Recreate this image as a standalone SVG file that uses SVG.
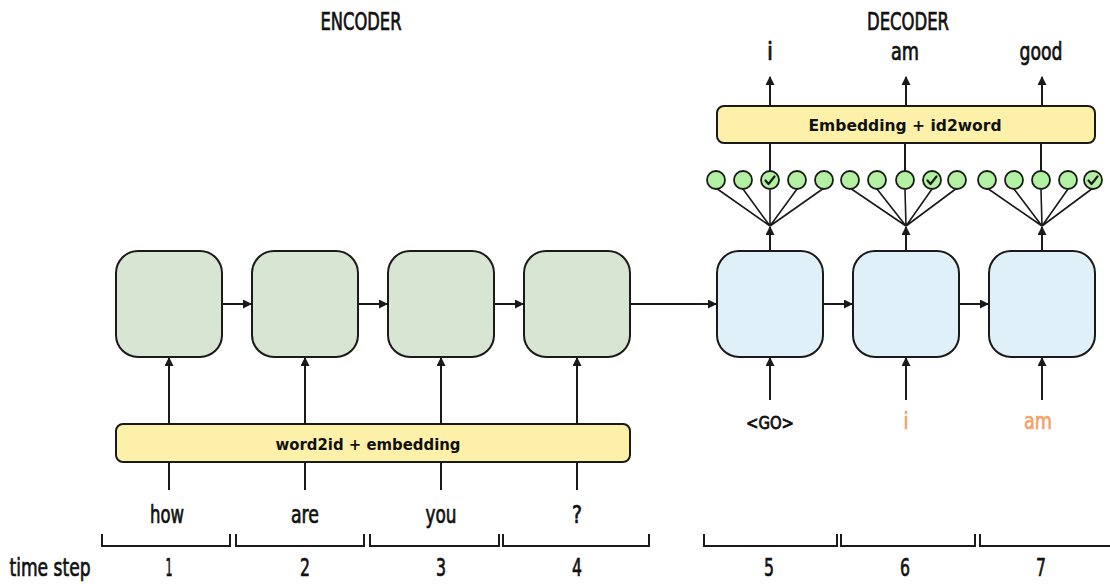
<svg xmlns="http://www.w3.org/2000/svg" width="1110" height="584" viewBox="0 0 1110 584">
<style>
.enc{fill:#d9e5d3;stroke:#1a1a1a;stroke-width:2}
.dec{fill:#dff0f8;stroke:#1a1a1a;stroke-width:2}
.bar{fill:#fdf1aa;stroke:#1a1a1a;stroke-width:2}
.ln{stroke:#1a1a1a;stroke-width:2;fill:none}
.fan{stroke:#1a1a1a;stroke-width:1.6;fill:none}
.cir{fill:#b3f1a2;stroke:#1a1a1a;stroke-width:1.8}
.chk{stroke:#1a1a1a;stroke-width:2.2;fill:none;stroke-linecap:round;stroke-linejoin:round}
.cd{font-family:"DejaVu Sans Condensed","DejaVu Sans",sans-serif;fill:#111;stroke:#111;stroke-width:0.7;text-anchor:middle}
.bd{font-family:"DejaVu Sans","Liberation Sans",sans-serif;font-weight:bold;fill:#111;text-anchor:middle}
.go{font-family:"DejaVu Sans","Liberation Sans",sans-serif;fill:#111;stroke:#111;stroke-width:0.8;text-anchor:middle}
.or{fill:#f4a266;stroke:#f4a266}
</style>
<defs>
<marker id="ah" markerUnits="userSpaceOnUse" markerWidth="10" markerHeight="10" refX="8" refY="4.5" orient="auto">
<path d="M0,0 L9,4.5 L0,9 z" fill="#1a1a1a"/>
</marker>
</defs>

<g id="titles">
<text class="cd" x="361" y="30" font-size="24" textLength="81" lengthAdjust="spacingAndGlyphs">ENCODER</text>
<text class="cd" x="908" y="30" font-size="24" textLength="82" lengthAdjust="spacingAndGlyphs">DECODER</text>
</g>

<g id="connectors">
<line class="ln" x1="222" y1="304" x2="251" y2="304" marker-end="url(#ah)"/>
<line class="ln" x1="358" y1="304" x2="387" y2="304" marker-end="url(#ah)"/>
<line class="ln" x1="494" y1="304" x2="523" y2="304" marker-end="url(#ah)"/>
<line class="ln" x1="630" y1="304" x2="716" y2="304" marker-end="url(#ah)"/>
<line class="ln" x1="823" y1="304" x2="852" y2="304" marker-end="url(#ah)"/>
<line class="ln" x1="959" y1="304" x2="988" y2="304" marker-end="url(#ah)"/>
<line class="ln" x1="169" y1="424" x2="169" y2="358" marker-end="url(#ah)"/>
<line class="ln" x1="305" y1="424" x2="305" y2="358" marker-end="url(#ah)"/>
<line class="ln" x1="441" y1="424" x2="441" y2="358" marker-end="url(#ah)"/>
<line class="ln" x1="577" y1="424" x2="577" y2="358" marker-end="url(#ah)"/>
<line class="ln" x1="169" y1="490" x2="169" y2="462"/>
<line class="ln" x1="305" y1="490" x2="305" y2="462"/>
<line class="ln" x1="441" y1="490" x2="441" y2="462"/>
<line class="ln" x1="577" y1="490" x2="577" y2="462"/>
<line class="ln" x1="770" y1="400" x2="770" y2="358" marker-end="url(#ah)"/>
<line class="ln" x1="906" y1="400" x2="906" y2="358" marker-end="url(#ah)"/>
<line class="ln" x1="1042" y1="400" x2="1042" y2="358" marker-end="url(#ah)"/>
<line class="ln" x1="770" y1="251" x2="770" y2="227" marker-end="url(#ah)"/>
<line class="ln" x1="906" y1="251" x2="906" y2="227" marker-end="url(#ah)"/>
<line class="ln" x1="1042" y1="251" x2="1042" y2="227" marker-end="url(#ah)"/>
<path class="fan" d="M770,226 L716,188 M770,226 L743,189 M770,226 L770,190 M770,226 L797,189 M770,226 L824,188"/>
<path class="fan" d="M906,226 L850,188 M906,226 L877,189 M906,226 L905,190 M906,226 L932,189 M906,226 L957,188"/>
<path class="fan" d="M1042,226 L987,188 M1042,226 L1014,189 M1042,226 L1041,190 M1042,226 L1068,189 M1042,226 L1093,188"/>
<line class="ln" x1="770" y1="171" x2="770" y2="143"/>
<line class="ln" x1="905" y1="171" x2="905" y2="143"/>
<line class="ln" x1="1041" y1="171" x2="1041" y2="143"/>
<line class="ln" x1="770" y1="106" x2="770" y2="77" marker-end="url(#ah)"/>
<line class="ln" x1="906" y1="106" x2="906" y2="77" marker-end="url(#ah)"/>
<line class="ln" x1="1042" y1="106" x2="1042" y2="77" marker-end="url(#ah)"/>
</g>

<g id="enc1"><rect class="enc" x="116" y="251" width="106" height="106" rx="22"/></g>
<g id="enc2"><rect class="enc" x="252" y="251" width="106" height="106" rx="22"/></g>
<g id="enc3"><rect class="enc" x="388" y="251" width="106" height="106" rx="22"/></g>
<g id="enc4"><rect class="enc" x="524" y="251" width="106" height="106" rx="22"/></g>
<g id="dec5"><rect class="dec" x="717" y="251" width="106" height="106" rx="22"/></g>
<g id="dec6"><rect class="dec" x="853" y="251" width="106" height="106" rx="22"/></g>
<g id="dec7"><rect class="dec" x="989" y="251" width="106" height="106" rx="22"/></g>

<g id="word2id">
<rect class="bar" x="116" y="424" width="514" height="38" rx="7"/>
<text class="bd" x="368" y="450" font-size="16" textLength="185" lengthAdjust="spacingAndGlyphs">word2id + embedding</text>
</g>
<g id="id2word">
<rect class="bar" x="717" y="106" width="378" height="37" rx="7"/>
<text class="bd" x="905" y="131" font-size="16" textLength="193" lengthAdjust="spacingAndGlyphs">Embedding + id2word</text>
</g>

<g id="softmax5">
<circle class="cir" cx="716" cy="180" r="9"/>
<circle class="cir" cx="743" cy="180" r="9"/>
<circle class="cir" cx="770" cy="180" r="9"/>
<circle class="cir" cx="797" cy="180" r="9"/>
<circle class="cir" cx="824" cy="180" r="9"/>
<path class="chk" d="M765.5,180.5 L768.5,184 L774.5,176.5"/>
</g>
<g id="softmax6">
<circle class="cir" cx="850" cy="180" r="9"/>
<circle class="cir" cx="877" cy="180" r="9"/>
<circle class="cir" cx="905" cy="180" r="9"/>
<circle class="cir" cx="932" cy="180" r="9"/>
<circle class="cir" cx="957" cy="180" r="9"/>
<path class="chk" d="M927.5,180.5 L930.5,184 L936.5,176.5"/>
</g>
<g id="softmax7">
<circle class="cir" cx="987" cy="180" r="9"/>
<circle class="cir" cx="1014" cy="180" r="9"/>
<circle class="cir" cx="1041" cy="180" r="9"/>
<circle class="cir" cx="1068" cy="180" r="9"/>
<circle class="cir" cx="1093" cy="180" r="9"/>
<path class="chk" d="M1088.5,180.5 L1091.5,184 L1097.5,176.5"/>
</g>

<g id="outputs">
<text class="cd" x="770" y="60" font-size="24" textLength="6" lengthAdjust="spacingAndGlyphs">i</text>
<text class="cd" x="905" y="60" font-size="24" textLength="28" lengthAdjust="spacingAndGlyphs">am</text>
<text class="cd" x="1041" y="60" font-size="24" textLength="43" lengthAdjust="spacingAndGlyphs">good</text>
</g>

<g id="dec-inputs">
<text class="go" x="770" y="429" font-size="17" textLength="48" lengthAdjust="spacingAndGlyphs">&lt;GO&gt;</text>
<text class="cd or" x="906" y="429" font-size="23" textLength="5" lengthAdjust="spacingAndGlyphs">i</text>
<text class="cd or" x="1038" y="429" font-size="23" textLength="28" lengthAdjust="spacingAndGlyphs">am</text>
</g>

<g id="enc-inputs">
<text class="cd" x="167" y="523" font-size="24" textLength="34" lengthAdjust="spacingAndGlyphs">how</text>
<text class="cd" x="305" y="523" font-size="24" textLength="28" lengthAdjust="spacingAndGlyphs">are</text>
<text class="cd" x="441" y="523" font-size="24" textLength="31" lengthAdjust="spacingAndGlyphs">you</text>
<text class="cd" x="577" y="523" font-size="24" textLength="10" lengthAdjust="spacingAndGlyphs">?</text>
</g>

<g id="timesteps">
<path class="ln" d="M102,534 V546 H230 V534 M236,534 V546 H364 V534 M370,534 V546 H499 V534 M503,534 V546 H649 V534 M704,534 V546 H837 V534 M841,534 V546 H975 V534 M980,534 V546 H1112"/>
<text class="cd" x="50" y="576" font-size="25" textLength="81" lengthAdjust="spacingAndGlyphs">time step</text>
<text class="cd" x="169" y="576" font-size="25" textLength="7" lengthAdjust="spacingAndGlyphs">1</text>
<text class="cd" x="305" y="576" font-size="25" textLength="10" lengthAdjust="spacingAndGlyphs">2</text>
<text class="cd" x="441" y="576" font-size="25" textLength="10" lengthAdjust="spacingAndGlyphs">3</text>
<text class="cd" x="577" y="576" font-size="25" textLength="10" lengthAdjust="spacingAndGlyphs">4</text>
<text class="cd" x="769" y="576" font-size="25" textLength="10" lengthAdjust="spacingAndGlyphs">5</text>
<text class="cd" x="905" y="576" font-size="25" textLength="10" lengthAdjust="spacingAndGlyphs">6</text>
<text class="cd" x="1041" y="576" font-size="25" textLength="10" lengthAdjust="spacingAndGlyphs">7</text>
</g>
</svg>
